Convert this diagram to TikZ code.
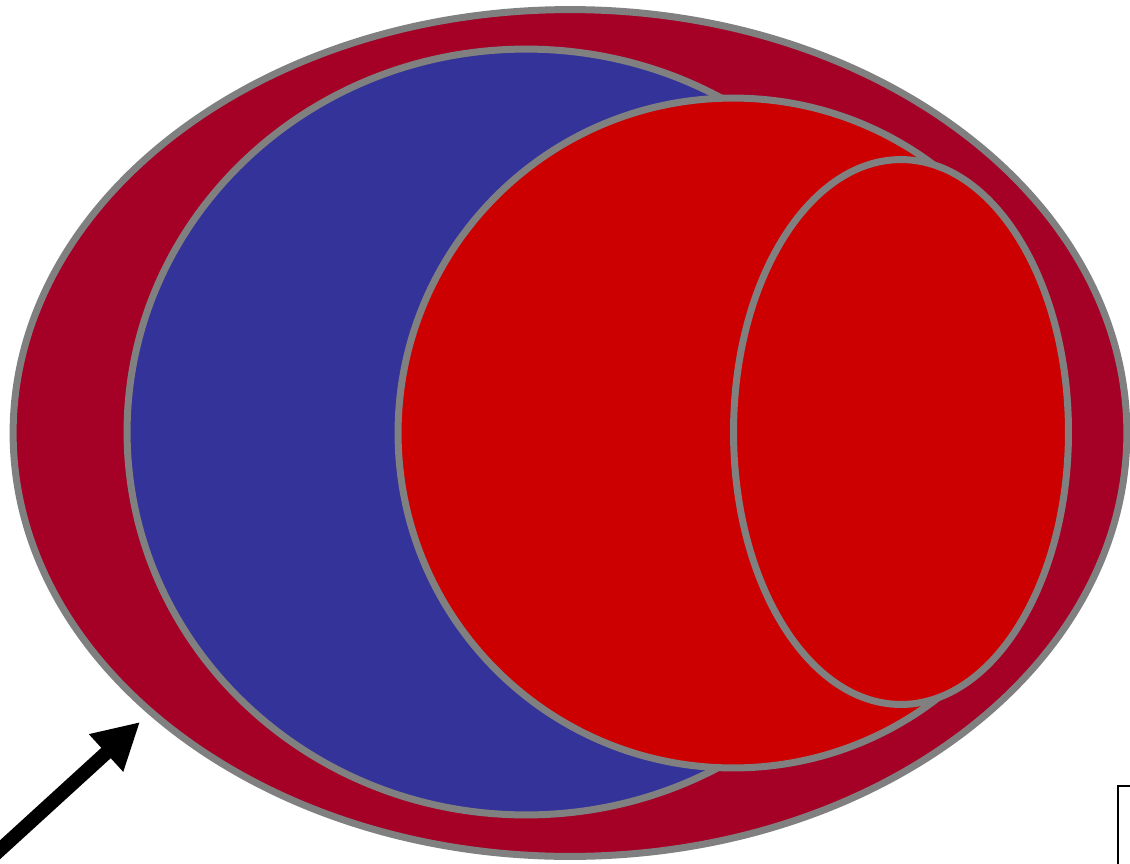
\documentclass[tikz,border=0pt]{standalone}
\usetikzlibrary{arrows.meta,shapes.geometric}
\definecolor{outerred}{RGB}{165,0,38}
\definecolor{setblue}{RGB}{51,51,153}
\definecolor{setred}{RGB}{204,0,0}
\definecolor{rimgray}{RGB}{128,128,128}

\begin{document}
\begin{tikzpicture}[
      x=0.02cm, y=-0.02cm,
      set/.style={ellipse, draw=rimgray, line width=0.14cm, inner sep=0pt},
      pointer/.style={-{Triangle[length=0.92cm, width=0.95cm]}, line width=0.28cm, draw=black},
      legend/.style={draw=black, line width=0.04cm, minimum width=2cm, minimum height=2cm}
    ]
    \useasboundingbox (0,0) rectangle (1130,863);
    \clip (0,0) rectangle (1130,863);
    \node[set, fill=outerred, minimum width=22.28cm, minimum height=16.94cm] (univ) at (570,433) {};
    \node[set, fill=setblue, minimum width=15.96cm, minimum height=15.32cm] (blueset) at (526,432) {};
    \node[set, fill=setred, minimum width=13.4cm, minimum height=13.4cm] (redset) at (733,433) {};
    \node[set, fill=setred, minimum width=6.7cm, minimum height=10.9cm] (subset) at (901,432) {};
    \node[legend, anchor=north west] (key) at (1117,785) {};
    \coordinate (tail) at (-20,868);
    \coordinate (tip) at (140,722);
    \draw[pointer] (tail) -- (tip);
  \end{tikzpicture}
\end{document}
